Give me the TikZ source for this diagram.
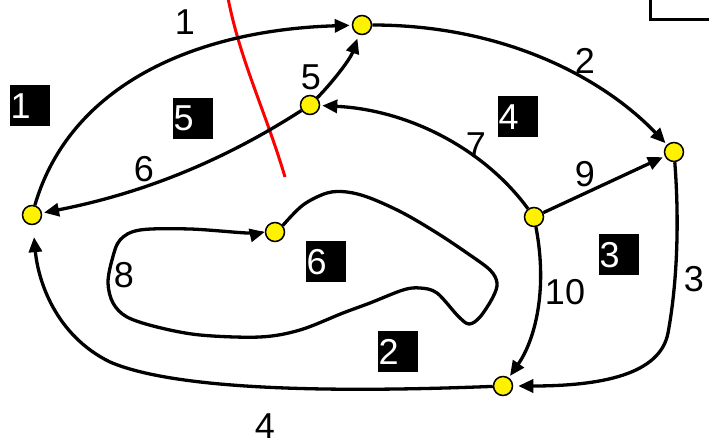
\documentclass[tikz,border=0pt]{standalone}
\usepackage{fontspec}
\setmainfont{Liberation Sans}
\usetikzlibrary{arrows.meta}
\begin{document}
\begin{tikzpicture}[x=1pt,y=-1pt,
  vtx/.style={circle,fill=yellow,draw=black,line width=1.5pt,minimum size=19pt,inner sep=0pt},
  edge/.style={line width=3.3pt,-{Triangle[length=15pt,width=13pt]},shorten >=2pt},
  lbl/.style={font=\fontsize{36}{40}\selectfont,inner sep=0pt},
  regbox/.style={fill=black,text=white,font=\fontsize{36}{40}\selectfont,anchor=north west,
    minimum height=41pt,text width=39pt,inner sep=0.5pt,align=left},
]
\useasboundingbox (0,0) rectangle (709,443);

% vertices
\node[vtx] (A) at (362,25) {};
\node[vtx] (B) at (310,105) {};
\node[vtx] (C) at (674,152) {};
\node[vtx] (D) at (32,215) {};
\node[vtx] (E) at (534,217) {};
\node[vtx] (F) at (275,232) {};
\node[vtx] (G) at (503,386) {};

% red cut line
\draw[red,line width=3pt] (228,-2) .. controls (240,60) and (265,110) .. (285,177);

% partial frame top right
\draw[line width=3pt] (650,-2) -- (650,20) -- (712,20);

% edges
\draw[edge] (D) .. controls (70,85) and (195,30) .. (A);
\draw[edge] (A) .. controls (500,25) and (600,75) .. (C);
\draw[edge,shorten >=5pt] (C) .. controls (680,230) and (676,290) .. (668,333)
   .. controls (660,375) and (600,386) .. (G);
\draw[edge,shorten >=12pt] (G) .. controls (350,392) and (180,392) .. (110,362)
   .. controls (55,335) and (38,280) .. (D);
\draw[edge,shorten >=4pt] (B) .. controls (330,85) and (350,60) .. (A);
\draw[edge] (B) .. controls (240,150) and (160,190) .. (D);
\draw[edge] (E) .. controls (485,150) and (410,110) .. (B);
\draw[edge,shorten >=0pt] plot[smooth,tension=0.55] coordinates {
  (F.40) (303,205) (327,193) (347,192) (370,198) (403,213) (437,233) (467,253)
  (490,270) (497,283) (493,297) (480,317) (469,324) (458,316) (437,293) (420,288)
  (403,290) (370,303) (343,313) (300,330) (260,337) (200,335) (157,327) (127,317)
  (113,303) (108,283) (112,260) (120,240) (140,230) (190,229) (247,233) (F.west)};
\draw[edge] (E) -- (C);
\draw[edge] (E) .. controls (548,290) and (535,340) .. (G);

% edge labels
\node[lbl] (l1) at (185,22) {1};
\node[lbl] (l2) at (585,61) {2};
\node[lbl] (l3) at (694,279) {3};
\node[lbl] (l4) at (265,426) {4};
\node[lbl] (l5) at (311,77) {5};
\node[lbl] (l6) at (144,169) {6};
\node[lbl] (l7) at (476,145) {7};
\node[lbl] (l8) at (124,275) {8};
\node[lbl] (l9) at (585,174) {9};
\node[lbl] (l10) at (565,292) {10};

% region labels
\node[regbox] (r1) at (10,85) {1};
\node[regbox] (r2) at (378,331) {2};
\node[regbox] (r3) at (599,234) {3};
\node[regbox] (r4) at (498,96) {4};
\node[regbox] (r5) at (173,98) {5};
\node[regbox] (r6) at (306,241) {6};
\end{tikzpicture}
\end{document}
